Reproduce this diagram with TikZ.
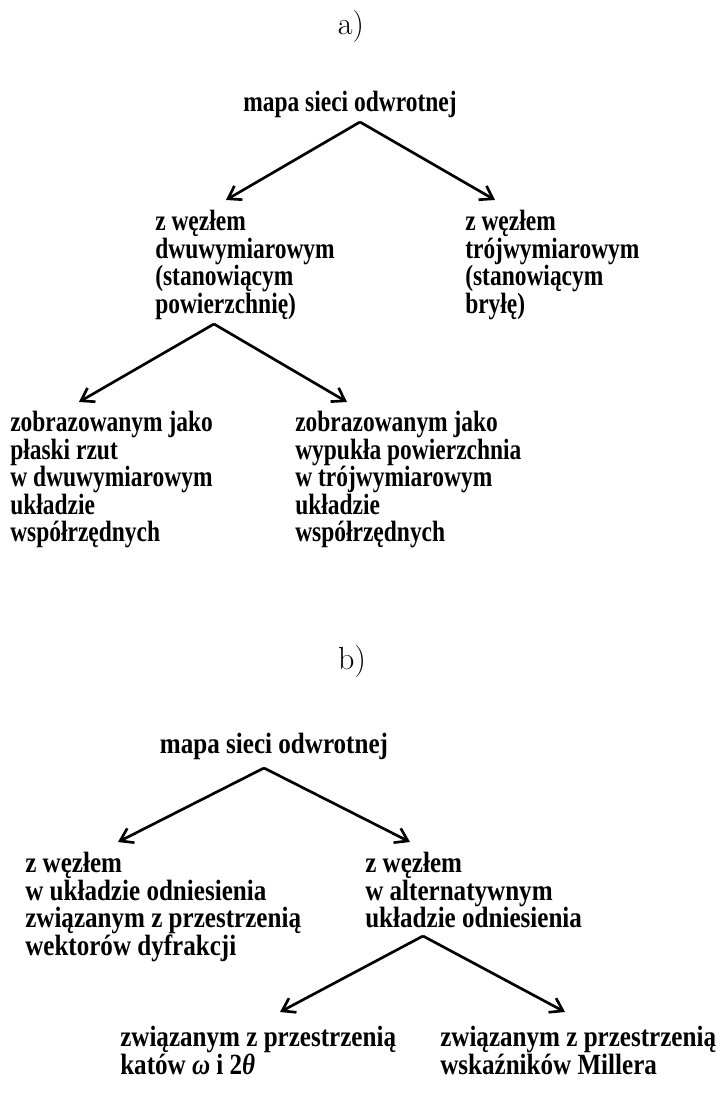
\documentclass[tikz,border=0pt]{standalone}
\usepackage{fontspec}
\setmainfont{Liberation Serif}
\newfontfamily\mapfonta[FakeStretch=0.80]{Liberation Serif}
\newfontfamily\mapfontb[FakeStretch=0.855]{Liberation Serif}
\usetikzlibrary{arrows.meta}
\newcommand{\mapsize}{\fontsize{22}{20.6}\selectfont\lineskiplimit=-\maxdimen}

\begin{document}
\begin{tikzpicture}[x=0.75pt,y=-0.75pt,>={Straight Barb[length=9pt,width=12pt]},
  tagtext/.style={inner sep=0pt,anchor=base,font=\fontspec{Latin Modern Roman}\fontsize{24}{26}\selectfont},
  heada/.style={inner sep=0pt,anchor=base,font=\mapfonta\bfseries\mapsize},
  itema/.style={inner sep=0pt,anchor=north west,align=left,font=\mapfonta\bfseries\mapsize},
  headb/.style={inner sep=0pt,anchor=base,font=\mapfontb\bfseries\mapsize},
  itemb/.style={inner sep=0pt,anchor=north west,align=left,font=\mapfontb\bfseries\mapsize}]
\useasboundingbox (0,0) rectangle (717,1112);

%Knoten a)
\node (ta) [tagtext] at (351,35) {a)};
\node (ra) [heada] at (350,112) {mapa sieci odwrotnej};
\node (a1) [itema] at (155,210) {z węzłem\\dwuwymiarowym\\(stanowiącym\\powierzchnię)};
\node (a2) [itema] at (465,210) {z węzłem\\trójwymiarowym\\(stanowiącym\\bryłę)};
\node (a11) [itema] at (10,411) {zobrazowanym jako\\płaski rzut\\w dwuwymiarowym\\układzie\\współrzędnych};
\node (a12) [itema] at (295,411) {zobrazowanym jako\\wypukła powierzchnia\\w trójwymiarowym\\układzie\\współrzędnych};

%Knoten b)
\node (tb) [tagtext] at (352,669) {b)};
\node (rb) [headb] at (274,753) {mapa sieci odwrotnej};
\node (b1) [itemb] at (25,852) {z węzłem\\w układzie odniesienia\\związanym z przestrzenią\\wektorów dyfrakcji};
\node (b2) [itemb] at (365,852) {z węzłem\\w alternatywnym\\układzie odniesienia};
\node (b21) [itemb] at (120,1026) {związanym z przestrzenią\\katów \textit{ω} i 2\textit{θ}};
\node (b22) [itemb] at (440,1026) {związanym z przestrzenią\\wskaźników Millera};

%Punkte
\coordinate (pa) at (360,122);
\coordinate (pa1) at (226,200);
\coordinate (pa2) at (495,200);
\coordinate (qa) at (214,324);
\coordinate (qa1) at (79,402);
\coordinate (qa2) at (347,402);
\coordinate (pb) at (264,768);
\coordinate (pb1) at (118,842);
\coordinate (pb2) at (410,842);
\coordinate (qb) at (423,936);
\coordinate (qb1) at (280,1012);
\coordinate (qb2) at (565,1012);

%Verbindungen
\path[line width=2pt,->]
(pa) edge (pa1)
(pa) edge (pa2)
(qa) edge (qa1)
(qa) edge (qa2)
(pb) edge (pb1)
(pb) edge (pb2)
(qb) edge (qb1)
(qb) edge (qb2)
;
\end{tikzpicture}
\end{document}
